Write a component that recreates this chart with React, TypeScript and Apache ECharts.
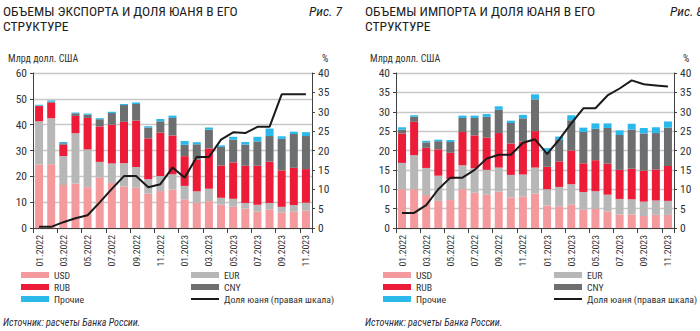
import React, { useEffect, useRef } from 'react';
import * as echarts from 'echarts';

const months = [
  '01.2022', '02.2022', '03.2022', '04.2022', '05.2022', '06.2022', '07.2022', '08.2022',
  '09.2022', '10.2022', '11.2022', '12.2022', '01.2023', '02.2023', '03.2023', '04.2023',
  '05.2023', '06.2023', '07.2023', '08.2023', '09.2023', '10.2023', '11.2023',
];

// Export (bn USD)
const usdExp = [24.6, 24.7, 16.6, 17.2, 15.8, 19.6, 17.4, 16.0, 15.6, 13.3, 14.3, 14.9, 11.1, 9.8, 10.4, 9.0, 8.2, 7.5, 6.4, 7.2, 6.0, 6.3, 6.7];
const eurExp = [16.7, 17.8, 11.3, 19.5, 14.6, 6.0, 7.6, 9.1, 8.0, 5.6, 5.8, 5.9, 5.2, 4.4, 4.8, 2.7, 3.1, 2.2, 2.6, 2.5, 2.2, 2.6, 3.1];
const rubExp = [5.9, 6.1, 4.3, 6.7, 12.2, 13.7, 15.0, 16.0, 18.0, 15.8, 16.8, 15.0, 11.5, 12.3, 15.6, 12.5, 14.1, 14.4, 15.1, 16.0, 14.1, 14.4, 13.0];
const cnyExp = [0.2, 0.3, 0.6, 1.0, 1.3, 2.8, 4.5, 6.5, 6.4, 4.2, 4.4, 6.8, 4.4, 5.9, 7.3, 7.2, 8.8, 8.2, 9.4, 9.9, 12.2, 13.1, 12.8];
const othExp = [0.3, 0.5, 0.5, 0.3, 0.4, 0.4, 0.5, 0.4, 0.6, 0.5, 0.9, 0.9, 1.5, 0.8, 0.8, 0.6, 1.1, 1.0, 1.8, 2.9, 1.0, 0.9, 1.5];
const shareExp = [0.3, 0.3, 1.5, 2.5, 3.3, 6.6, 10.1, 13.4, 13.4, 10.5, 11.3, 15.6, 13.0, 18.3, 18.3, 22.8, 24.7, 24.5, 26.1, 26.1, 34.5, 34.5, 34.5];

// Import (bn USD)
const usdImp = [10.0, 10.0, 8.5, 7.0, 7.2, 10.0, 9.1, 8.6, 9.4, 7.9, 8.1, 8.9, 5.8, 5.6, 6.0, 4.7, 4.9, 4.3, 3.5, 3.5, 3.1, 3.4, 3.4];
const eurImp = [6.8, 8.8, 7.0, 6.5, 5.4, 6.2, 6.3, 6.4, 6.2, 5.8, 5.7, 6.7, 4.2, 5.0, 5.3, 4.6, 4.6, 4.3, 4.0, 3.9, 3.7, 3.7, 3.6];
const rubImp = [7.6, 8.6, 5.2, 6.8, 6.8, 8.6, 8.5, 8.3, 8.9, 8.1, 8.5, 9.4, 5.8, 6.6, 8.7, 7.4, 8.0, 8.0, 7.5, 7.9, 8.0, 8.0, 9.0];
const cnyImp = [1.0, 1.3, 1.4, 2.1, 2.8, 3.6, 4.5, 5.4, 6.0, 5.3, 6.0, 8.2, 3.9, 5.5, 7.8, 8.1, 8.1, 9.2, 9.0, 10.1, 9.6, 9.4, 9.9];
const othImp = [0.6, 0.4, 0.4, 0.4, 0.5, 0.6, 0.6, 0.7, 0.9, 0.6, 0.9, 1.3, 0.9, 0.9, 1.3, 1.1, 1.4, 1.2, 1.2, 1.5, 1.4, 1.5, 1.6];
const shareImp = [3.9, 3.9, 5.9, 10.0, 13.0, 13.0, 15.0, 17.9, 18.9, 18.9, 22.0, 22.9, 19.1, 22.8, 27.0, 30.9, 30.9, 34.2, 36.0, 38.1, 37.1, 36.8, 36.5];

const seriesNames = ['USD', 'EUR', 'RUB', 'CNY', 'Прочие'];
const lineName = 'Доля юаня (правая шкала)';
const colors = ['#F4999C', '#B7B7B7', '#EC1B38', '#6D6E70', '#2BB8EA'];

const FONT = '"Liberation Sans Narrow", "Roboto Condensed", "Liberation Sans", Arial, sans-serif';
const AXIS = '#404040';
const TXT = '#333333';

function App() {
  const ref = useRef<HTMLDivElement>(null);
  useEffect(() => {
    document.body.style.margin = '0';
    const chart = echarts.init(ref.current!, null, { renderer: 'svg' });

    const xAxis = [0, 1].map((g) => ({
      type: 'category',
      gridIndex: g,
      data: months,
      boundaryGap: true,
      axisLine: { lineStyle: { color: AXIS, width: 1 } },
      axisTick: { show: true, interval: 1, length: 5, lineStyle: { color: AXIS } },
      axisLabel: { interval: 1, rotate: 90, fontSize: 9.8, color: TXT, margin: 7, fontFamily: FONT },
    }));

    const yLeft = (g: number, max: number, interval: number) => ({
      type: 'value',
      gridIndex: g,
      position: 'left',
      min: 0,
      max,
      interval,
      axisLine: { show: true, lineStyle: { color: AXIS, width: 1 } },
      axisTick: { show: true, length: 3, lineStyle: { color: AXIS } },
      splitLine: { show: true, lineStyle: { color: '#c8c8c8', width: 1.3 } },
      axisLabel: { fontSize: 11.5, color: TXT, margin: 6, fontFamily: FONT },
    });
    const yRight = (g: number) => ({
      type: 'value',
      gridIndex: g,
      position: 'right',
      min: 0,
      max: 40,
      interval: 5,
      axisLine: { show: true, lineStyle: { color: AXIS, width: 1 } },
      axisTick: { show: true, length: 3, lineStyle: { color: AXIS } },
      splitLine: { show: false },
      axisLabel: { fontSize: 11.5, color: TXT, margin: 6, fontFamily: FONT },
    });

    const panelSeries = (p: number, stacks: number[][], share: number[]) => [
      ...stacks.map((d, i) => ({
        type: 'bar',
        name: seriesNames[i],
        xAxisIndex: p,
        yAxisIndex: p * 2,
        stack: 'p' + p,
        barWidth: 8,
        data: d,
        itemStyle: { color: colors[i] },
      })),
      {
        type: 'line',
        name: lineName,
        xAxisIndex: p,
        yAxisIndex: p * 2 + 1,
        data: share,
        symbol: 'none',
        showSymbol: false,
        lineStyle: { color: '#1a1a1a', width: 2 },
        itemStyle: { color: '#1a1a1a' },
        z: 5,
      },
    ];

    const legendBase = {
      orient: 'vertical',
      top: 270,
      itemWidth: 28,
      itemHeight: 6,
      itemGap: 2,
      padding: 0,
      selectedMode: false,
      textStyle: { fontSize: 9.8, color: TXT, fontFamily: FONT },
    };
    const leftItems = [
      { name: 'USD', icon: 'rect' },
      { name: 'RUB', icon: 'rect' },
      { name: 'Прочие', icon: 'rect' },
    ];
    const rightItems = [
      { name: 'EUR', icon: 'rect' },
      { name: 'CNY', icon: 'rect' },
      { name: lineName, itemStyle: { opacity: 0 }, lineStyle: { color: '#1a1a1a', width: 2, opacity: 1 } },
    ];

    const txt = (x: number, y: number, text: string, opts: any = {}) => ({
      type: 'text',
      x,
      y,
      style: {
        text,
        fill: opts.fill || '#1d1d1b',
        font: opts.font || `13.5px ${FONT}`,
        textAlign: opts.align || 'left',
        textVerticalAlign: opts.valign || 'top',
        lineHeight: opts.lineHeight,
      },
    });

    const option: any = {
      animation: false,
      grid: [
        { left: 33, right: 388, top: 73, bottom: 103 },
        { left: 396, right: 26, top: 73, bottom: 103 },
      ],
      xAxis,
      yAxis: [yLeft(0, 60, 10), yRight(0), yLeft(1, 40, 5), yRight(1)],
      legend: [
        { ...legendBase, left: 21, data: leftItems },
        { ...legendBase, left: 190, data: rightItems },
        { ...legendBase, left: 383, data: leftItems },
        { ...legendBase, left: 553, data: rightItems },
      ],
      series: [
        ...panelSeries(0, [usdExp, eurExp, rubExp, cnyExp, othExp], shareExp),
        ...panelSeries(1, [usdImp, eurImp, rubImp, cnyImp, othImp], shareImp),
      ],
      graphic: [
        txt(3, 3, 'ОБЪЕМЫ ЭКСПОРТА И ДОЛЯ ЮАНЯ В ЕГО\nСТРУКТУРЕ', { lineHeight: 15 }),
        txt(342, 4, 'Рис. 7', { align: 'right', font: `italic 13.5px ${FONT}` }),
        txt(365, 3, 'ОБЪЕМЫ ИМПОРТА И ДОЛЯ ЮАНЯ В ЕГО\nСТРУКТУРЕ', { lineHeight: 15 }),
        txt(670, 4, 'Рис. 8', { font: `italic 13.5px ${FONT}` }),
        txt(8, 58, 'Млрд долл. США', { valign: 'middle', font: `10px ${FONT}`, fill: TXT }),
        txt(322, 58, '%', { valign: 'middle', font: `10px ${FONT}`, fill: TXT }),
        txt(370, 58, 'Млрд долл. США', { valign: 'middle', font: `10px ${FONT}`, fill: TXT }),
        txt(683, 58, '%', { valign: 'middle', font: `10px ${FONT}`, fill: TXT }),
        txt(3, 322, 'Источник: расчеты Банка России.', { valign: 'middle', font: `italic 10px ${FONT}`, fill: '#2a2a3a' }),
        txt(365, 322, 'Источник: расчеты Банка России.', { valign: 'middle', font: `italic 10px ${FONT}`, fill: '#2a2a3a' }),
      ],
    };

    chart.setOption(option);
    return () => chart.dispose();
  }, []);

  return <div ref={ref} style={{ position: 'absolute', left: 0, top: 0, width: 700, height: 331 }} />;
}

export default App;
